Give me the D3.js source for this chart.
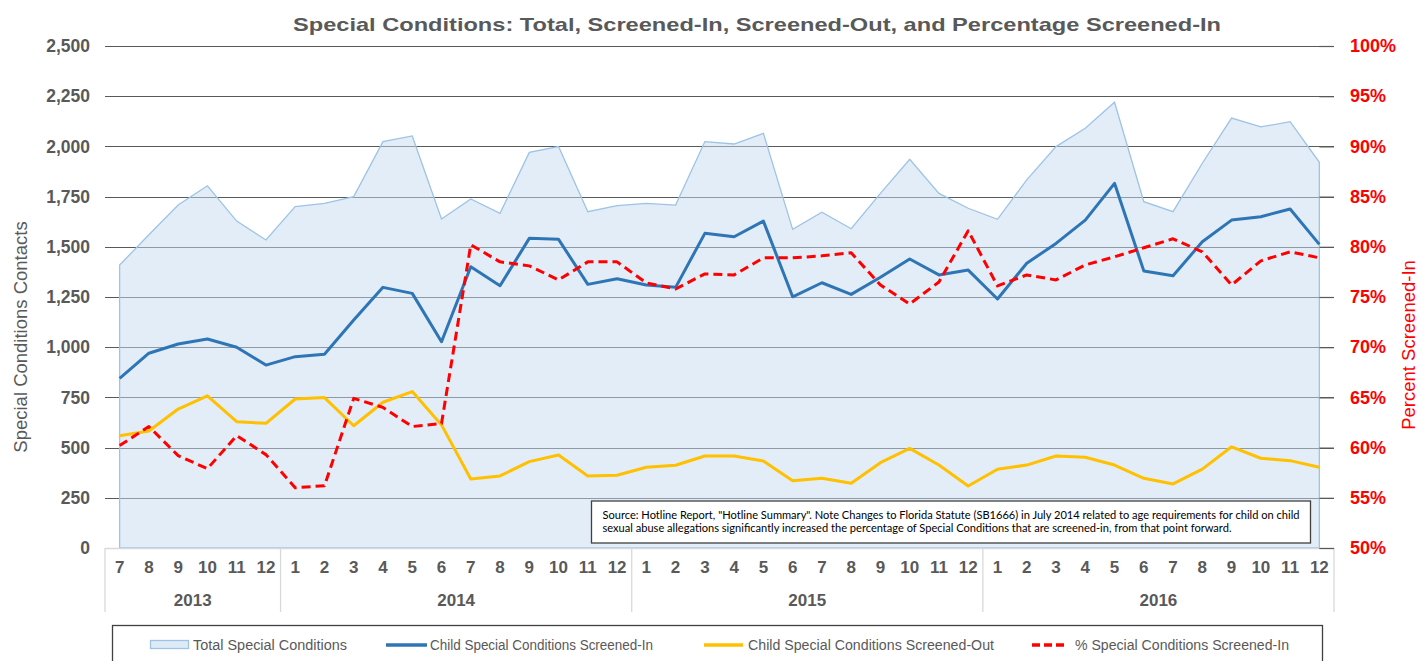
<!DOCTYPE html>
<html>
<head>
<meta charset="utf-8">
<script src="https://cdn.jsdelivr.net/npm/d3@7"></script>
<style>
  html, body { margin: 0; padding: 0; background: #ffffff; }
  svg { display: block; }
</style>
</head>
<body>
<svg id="chart" width="1426" height="661"></svg>
<script>
// ---------------- DATA ----------------
const monthLabels = ["7","8","9","10","11","12",
  "1","2","3","4","5","6","7","8","9","10","11","12",
  "1","2","3","4","5","6","7","8","9","10","11","12",
  "1","2","3","4","5","6","7","8","9","10","11","12"];
const yearLabels = ["2013","2014","2015","2016"];
const yearMonthCounts = [6, 12, 12, 12];

const totalSpecial = [1409,1560,1708,1804,1628,1534,
  1700,1716,1750,2024,2052,1638,1738,1667,1970,1999,1675,1705,
  1716,1708,2024,2012,2065,1587,1672,1590,1766,1936,1766,1692,
  1637,1833,1999,2090,2220,1725,1675,1916,2141,2097,2123,1921];
const screenedIn = [845,970,1016,1041,1000,911,
  953,965,1135,1298,1268,1027,1401,1306,1542,1537,1313,1341,
  1310,1298,1567,1550,1628,1251,1321,1263,1348,1439,1360,1384,
  1240,1418,1517,1633,1816,1380,1356,1525,1633,1650,1688,1512];
const screenedOut = [559,583,692,758,629,621,
  742,749,609,726,779,613,344,359,430,463,359,362,
  402,412,458,458,433,335,347,322,425,496,413,309,
  392,413,458,452,413,347,319,393,504,447,435,402];
const pctScreenedIn = [60.2,62.1,59.2,57.9,61.2,59.3,
  56.0,56.2,64.9,64.0,62.1,62.4,80.2,78.5,78.1,76.7,78.5,78.5,
  76.4,75.8,77.3,77.2,78.9,78.9,79.1,79.4,76.2,74.3,76.5,81.6,
  76.1,77.2,76.7,78.2,79.0,79.9,80.8,79.5,76.2,78.6,79.5,78.9];

const leftTicks = [0,250,500,750,1000,1250,1500,1750,2000,2250,2500];
const rightTicks = [50,55,60,65,70,75,80,85,90,95,100];

const titleText = "Special Conditions:  Total, Screened-In, Screened-Out, and Percentage Screened-In";
const leftAxisTitle = "Special Conditions Contacts";
const rightAxisTitle = "Percent Screened-In";
const seriesNames = ["Total Special Conditions", "Child Special Conditions Screened-In",
  "Child Special Conditions Screened-Out", "% Special Conditions Screened-In"];
const sourceLines = [
  "Source: Hotline Report, \"Hotline Summary\".  Note Changes to Florida Statute (SB1666) in July 2014 related to age requirements for child on child",
  "sexual abuse allegations significantly increased the percentage of Special Conditions that are screened-in, from that point forward."
];

// ---------------- LAYOUT ----------------
const svg = d3.select("#chart");
const plotL = 105, plotR = 1334, plotT = 46, plotB = 548;
const FONT = "'Liberation Sans', Arial, sans-serif";
const GREY = "#595959";

const x = d3.scaleBand().domain(d3.range(monthLabels.length)).range([plotL, plotR]).padding(0);
const cx = i => x(i) + x.bandwidth() / 2;
const yL = d3.scaleLinear().domain([0, 2500]).range([plotB, plotT]);
const yR = d3.scaleLinear().domain([50, 100]).range([plotB, plotT]);

// Title
svg.append("text")
  .attr("x", 757).attr("y", 31)
  .attr("text-anchor", "middle")
  .attr("font-family", FONT).attr("font-weight", "bold").attr("font-size", 19)
  .attr("fill", GREY)
  .attr("textLength", 928).attr("lengthAdjust", "spacingAndGlyphs")
  .text(titleText);

// Gridlines
svg.append("g").selectAll("line")
  .data(leftTicks.filter(d => d > 0))
  .join("line")
  .attr("x1", plotL).attr("x2", plotR)
  .attr("y1", d => Math.round(yL(d)) + 0.5).attr("y2", d => Math.round(yL(d)) + 0.5)
  .attr("stroke", GREY).attr("stroke-width", 1.2);

// Area (total)
const area = d3.area()
  .x((d, i) => cx(i))
  .y0(yL(0))
  .y1(d => yL(d));
svg.append("path")
  .datum(totalSpecial)
  .attr("d", area)
  .attr("fill", "#c6dbef").attr("fill-opacity", 0.5)
  .attr("stroke", "#9dc3e6").attr("stroke-width", 1.3);

// X axis base (light grey) & separators
const axisG = svg.append("g");
axisG.append("line")
  .attr("x1", plotL).attr("x2", plotR).attr("y1", plotB + 0.5).attr("y2", plotB + 0.5)
  .attr("stroke", "#d9d9d9").attr("stroke-width", 1.3);
const yearStarts = [0];
yearMonthCounts.forEach((c, k) => yearStarts.push(yearStarts[k] + c));
axisG.selectAll("line.sep")
  .data(yearStarts)
  .join("line").attr("class", "sep")
  .attr("x1", d => d < monthLabels.length ? x(d) : plotR)
  .attr("x2", d => d < monthLabels.length ? x(d) : plotR)
  .attr("y1", plotB).attr("y2", 612)
  .attr("stroke", "#d9d9d9").attr("stroke-width", 1.3);

// Month labels via axis
const xAxis = d3.axisBottom(x).tickFormat(i => monthLabels[i]).tickSize(0).tickPadding(13);
const gx = svg.append("g").attr("transform", `translate(0,${plotB})`).call(xAxis);
gx.select(".domain").remove();
gx.selectAll("text")
  .attr("font-family", FONT).attr("font-weight", "bold").attr("font-size", 17).attr("fill", GREY);

// Year labels
svg.append("g").selectAll("text")
  .data(yearLabels)
  .join("text")
  .attr("x", (d, k) => {
    const s = yearStarts[k], e = yearStarts[k + 1];
    const xe = e < monthLabels.length ? x(e) : plotR;
    return (x(s) + xe) / 2;
  })
  .attr("y", 606)
  .attr("text-anchor", "middle")
  .attr("font-family", FONT).attr("font-weight", "bold").attr("font-size", 17).attr("fill", GREY)
  .text(d => d);

// Left axis
const gl = svg.append("g").attr("transform", `translate(${plotL},0)`)
  .call(d3.axisLeft(yL).tickValues(leftTicks).tickFormat(d3.format(",")).tickSize(0).tickPadding(15));
gl.select(".domain").remove();
gl.selectAll("text")
  .attr("font-family", FONT).attr("font-weight", "bold").attr("font-size", 17.5).attr("fill", GREY);

// Right axis
const rightX = cx(monthLabels.length - 1);
const gr = svg.append("g").attr("transform", `translate(${rightX},0)`)
  .call(d3.axisRight(yR).tickValues(rightTicks).tickFormat(d => d + "%").tickSize(plotR - rightX).tickPadding(16));
gr.select(".domain").remove();
gr.selectAll(".tick line").attr("stroke", GREY).attr("stroke-width", 1.2);
gr.selectAll("text")
  .attr("font-family", FONT).attr("font-weight", "bold").attr("font-size", 18).attr("fill", "#ff0000");

// Axis titles
svg.append("text")
  .attr("transform", "translate(27,337) rotate(-90)")
  .attr("text-anchor", "middle")
  .attr("font-family", FONT).attr("font-size", 18.5).attr("fill", GREY)
  .text(leftAxisTitle);
svg.append("text")
  .attr("transform", "translate(1415,345) rotate(-90)")
  .attr("text-anchor", "middle")
  .attr("font-family", FONT).attr("font-size", 18.5).attr("fill", "#ff0000")
  .text(rightAxisTitle);

// Lines
const lineL = d3.line().x((d, i) => cx(i)).y(d => yL(d));
const lineR = d3.line().x((d, i) => cx(i)).y(d => yR(d));
svg.append("path").datum(screenedIn).attr("d", lineL)
  .attr("fill", "none").attr("stroke", "#2e75b6").attr("stroke-width", 3).attr("stroke-linejoin", "round");
svg.append("path").datum(screenedOut).attr("d", lineL)
  .attr("fill", "none").attr("stroke", "#ffc000").attr("stroke-width", 3).attr("stroke-linejoin", "round");
svg.append("path").datum(pctScreenedIn).attr("d", lineR)
  .attr("fill", "none").attr("stroke", "#ff0000").attr("stroke-width", 3)
  .attr("stroke-dasharray", "9,5").attr("stroke-linejoin", "round");

// Source box
const sb = svg.append("g");
sb.append("rect").attr("x", 591.5).attr("y", 501).attr("width", 719).attr("height", 42)
  .attr("fill", "#ffffff").attr("stroke", "#404040").attr("stroke-width", 1.3);
const srcWidths = [697, 629];
sb.selectAll("text").data(sourceLines).join("text")
  .attr("x", 602.5).attr("y", (d, i) => 519 + i * 13)
  .attr("font-family", "Lato, 'Open Sans', sans-serif").attr("font-size", 10.5).attr("fill", "#000000")
  .attr("textLength", (d, i) => srcWidths[i]).attr("lengthAdjust", "spacingAndGlyphs")
  .text(d => d);

// Legend
const lg = svg.append("g");
lg.append("rect").attr("x", 112.5).attr("y", 625.5).attr("width", 1210).attr("height", 60)
  .attr("fill", "#ffffff").attr("stroke", "#404040").attr("stroke-width", 1.3);
const legendSpecs = [
  { sx: 150, ex: 188, tx: 193, tw: 154 },
  { sx: 386, ex: 427, tx: 430, tw: 223 },
  { sx: 704, ex: 743, tx: 748, tw: 246 },
  { sx: 1032, ex: 1068, tx: 1075, tw: 214 }
];
const legendY = 645;
// area swatch
lg.append("rect").attr("x", legendSpecs[0].sx + 0.5).attr("y", legendY - 4.5).attr("width", legendSpecs[0].ex - legendSpecs[0].sx).attr("height", 8)
  .attr("fill", "#deebf7").attr("stroke", "#9dc3e6").attr("stroke-width", 1.3);
const swatchStyles = [null,
  { c: "#2e75b6", dash: null },
  { c: "#ffc000", dash: null },
  { c: "#ff0000", dash: "8,4" }];
[1, 2, 3].forEach(k => {
  const s = legendSpecs[k];
  lg.append("line").attr("x1", s.sx).attr("x2", s.ex).attr("y1", legendY).attr("y2", legendY)
    .attr("stroke", swatchStyles[k].c).attr("stroke-width", 3.5)
    .attr("stroke-dasharray", swatchStyles[k].dash);
});
lg.selectAll("text.lt").data(seriesNames).join("text").attr("class", "lt")
  .attr("x", (d, i) => legendSpecs[i].tx).attr("y", legendY + 5)
  .attr("font-family", "'Liberation Sans Narrow', 'Arial Narrow', " + FONT)
  .attr("font-size", 14).attr("fill", GREY)
  .attr("textLength", (d, i) => legendSpecs[i].tw).attr("lengthAdjust", "spacingAndGlyphs")
  .text(d => d);
</script>
</body>
</html>
